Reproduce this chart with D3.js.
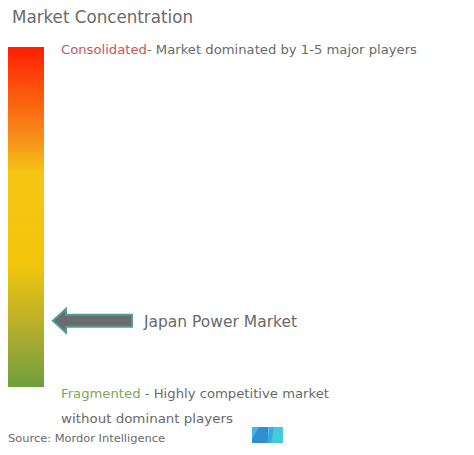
<!DOCTYPE html>
<html>
<head>
<meta charset="utf-8">
<script src="https://cdn.jsdelivr.net/npm/d3@7"></script>
<style>
  html,body{margin:0;padding:0;background:#fff;}
  svg{display:block;}
  text{font-family:"DejaVu Sans",Verdana,sans-serif;}
</style>
</head>
<body>
<script>
"use strict";
//Chart data
var title = "Market Concentration",
    marketName = "Japan Power Market",
    //0 = fragmented, 1 = consolidated
    marketPosition = [0.195],
    topLabel = ["Consolidated", "- Market dominated by 1-5 major players"],
    bottomLabel = ["Fragmented", " - Highly competitive market"],
    bottomLabel2 = "without dominant players",
    source = "Source: Mordor Intelligence",
    gradientStops = [
        {offset: 0, color: "#ff1e00"},
        {offset: 0.27, color: "#f7901a"},
        {offset: 0.37, color: "#f5c514"},
        {offset: 0.64, color: "#f2c60c"},
        {offset: 0.82, color: "#b7ae2c"},
        {offset: 1, color: "#6f9f3e"}
    ];

var width = 474, height = 455,
    bar = {x: 8, y: 47, w: 36, h: 340},
    grey = "#6a6a6a";

var svg = d3.select("body").append("svg")
    .attr("width", width)
    .attr("height", height);

//Scale from concentration to vertical position on the bar
var yScale = d3.scaleLinear().domain([0, 1]).range([bar.y + bar.h, bar.y]);

var grad = svg.append("defs").append("linearGradient")
    .attr("id", "concGrad")
    .attr("x1", 0).attr("y1", 0).attr("x2", 0).attr("y2", 1);
grad.selectAll("stop").data(gradientStops).enter().append("stop")
    .attr("offset", d => d.offset)
    .attr("stop-color", d => d.color);

svg.append("rect")
    .attr("x", bar.x)
    .attr("y", yScale(1))
    .attr("width", bar.w)
    .attr("height", yScale(0) - yScale(1))
    .style("fill", "url(#concGrad)");

//Title
svg.append("text")
    .attr("x", 12).attr("y", 23)
    .attr("textLength", 181).attr("lengthAdjust", "spacingAndGlyphs")
    .style("font-size", "17px")
    .style("fill", grey)
    .text(title);

//Consolidated label
var topText = svg.append("text")
    .attr("x", 61).attr("y", 54)
    .attr("textLength", 356).attr("lengthAdjust", "spacingAndGlyphs")
    .style("font-size", "13px")
    .style("fill", grey);
topText.append("tspan").style("fill", "#c9545c").text(topLabel[0]);
topText.append("tspan").text(topLabel[1]);

//Arrow pointing at market position
svg.selectAll(".arrow").data(marketPosition).enter().append("path")
    .attr("class", "arrow")
    .attr("d", function(d){
        var y = yScale(d), tip = 53, neck = 66, end = 132;
        return "M" + tip + "," + y +
            "L" + neck + "," + (y - 12) +
            "L" + neck + "," + (y - 6) +
            "L" + end + "," + (y - 6) +
            "L" + end + "," + (y + 6) +
            "L" + neck + "," + (y + 6) +
            "L" + neck + "," + (y + 12) + "Z";
    })
    .style("fill", "#6b6b6b")
    .style("stroke", "#4f9c9a")
    .style("stroke-width", 2)
    .style("stroke-linejoin", "miter");

svg.selectAll(".mname").data(marketPosition).enter().append("text")
    .attr("class", "mname")
    .attr("x", 144).attr("y", d => yScale(d) + 6)
    .attr("textLength", 153).attr("lengthAdjust", "spacingAndGlyphs")
    .style("font-size", "15px")
    .style("fill", grey)
    .text(marketName);

//Fragmented label
var botText = svg.append("text")
    .attr("x", 61).attr("y", 398)
    .attr("textLength", 268).attr("lengthAdjust", "spacingAndGlyphs")
    .style("font-size", "13px")
    .style("fill", grey);
botText.append("tspan").style("fill", "#7aa85a").text(bottomLabel[0]);
botText.append("tspan").text(bottomLabel[1]);

svg.append("text")
    .attr("x", 61).attr("y", 423)
    .attr("textLength", 172).attr("lengthAdjust", "spacingAndGlyphs")
    .style("font-size", "13px")
    .style("fill", grey)
    .text(bottomLabel2);

//Source
svg.append("text")
    .attr("x", 8).attr("y", 442)
    .attr("textLength", 157).attr("lengthAdjust", "spacingAndGlyphs")
    .style("font-size", "11px")
    .style("fill", grey)
    .text(source);

//Logo
var logo = svg.append("g").attr("transform", "translate(252,427)");
var logoShapes = [
    {pts: [[0,0],[16,0],[16,16],[0,16]], c: "#2e8fd0"},
    {pts: [[0,0],[7,0],[0,12]], c: "#49b3e6"},
    {pts: [[16,0],[31,0],[31,16],[16,16]], c: "#45c9dc"},
    {pts: [[18,0],[22,0],[19,16],[15,16]], c: "#3aa8dc"}
];
logo.selectAll("polygon").data(logoShapes).enter().append("polygon")
    .attr("points", d => d.pts.map(p => p.join(",")).join(" "))
    .style("fill", d => d.c);
</script>
</body>
</html>
